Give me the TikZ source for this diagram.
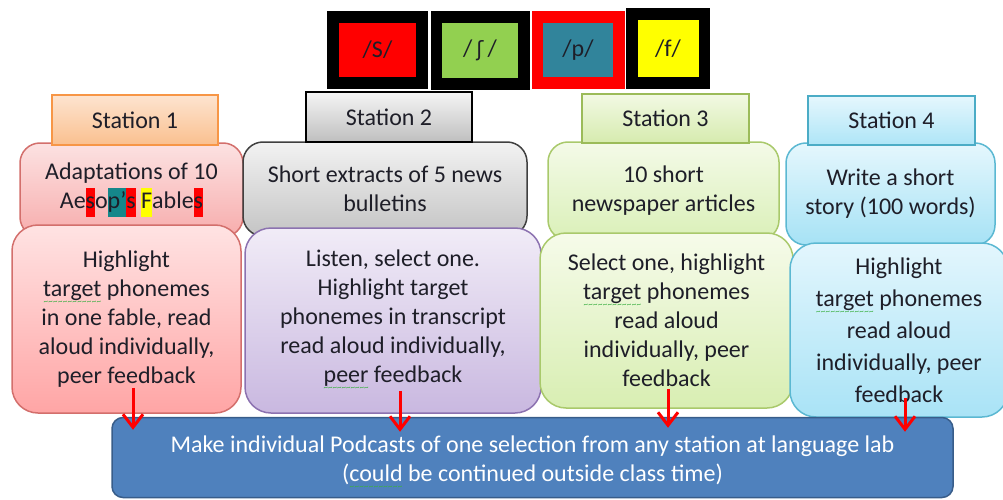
\documentclass[tikz,border=0pt]{standalone}
\usepackage{fontspec}
\setmainfont{Carlito}
\newfontfamily\ipafont{DejaVu Sans}
\usetikzlibrary{arrows.meta,calc}

\definecolor{ink}{HTML}{1E1E28}
\definecolor{phS}{HTML}{FF0000}
\definecolor{phSh}{HTML}{92D050}
\definecolor{phP}{HTML}{31849B}
\definecolor{phF}{HTML}{FFFF00}
\definecolor{hlteal}{HTML}{15878A}
\definecolor{spell}{HTML}{3CB043}
\definecolor{podfill}{HTML}{4F81BD}
\definecolor{podline}{HTML}{385D8A}

\newcommand\hl[2]{{\setlength{\fboxsep}{0pt}\colorbox{#1}{\strut #2}}}
\newcommand\squig[1]{{\setbox0\hbox{#1}\rlap{\color{spell}\raisebox{-8pt}{\hbox to \wd0{\xleaders\hbox{\fontsize{9}{9}\selectfont\textasciitilde}\hfil}}}\box0}}

\begin{document}
\begin{tikzpicture}[x=1pt,y=-1pt,
    every node/.style={font=\fontsize{24}{29}\selectfont, text=ink},
    phon/.style={rectangle, line width=11.5pt, font=\fontsize{24}{26}\selectfont},
    head/.style={rectangle, line width=1.5pt, minimum width=166pt, minimum height=49pt},
    desc/.style={rectangle, rounded corners=20pt, line width=1.5pt, align=center},
    task/.style={rectangle, rounded corners=26pt, line width=1.5pt, align=center},
    arr/.style={red, line width=3pt, -{Straight Barb[length=13pt,width=20pt]}}]
  \useasboundingbox (0,0) rectangle (1003,500);

  % phonemes
  \node[phon, draw=black, fill=phS, minimum width=89pt, minimum height=66pt] (pS) at (377.5,50) {/S/};
  \node[phon, draw=black, fill=phSh, minimum width=87.5pt, minimum height=67pt] (pSh) at (480,50.5) {/\,{\ipafont\fontsize{21}{26}\selectfont ʃ}\,/};
  \node[phon, draw=red, fill=phP, minimum width=81.5pt, minimum height=66pt] (pP) at (578,50) {/p/};
  \node[phon, draw=black, fill=phF, minimum width=72.5pt, minimum height=69pt] (pF) at (668,48.5) {/f/};

  % what each station works on
  \node[desc, draw={rgb,255:red,211;green,111;blue,108}, top color={rgb,255:red,252;green,226;blue,226}, bottom color={rgb,255:red,247;green,172;blue,172},
        minimum width=223pt, minimum height=94pt] (d1) at (131.5,190)
        {Adaptations of 10\\Ae\hl{phS}{s}o\hl{hlteal}{p’}\hl{phS}{s} \hl{phF}{F}able\hl{phS}{s}};
  \node[desc, draw={rgb,255:red,64;green,64;blue,64}, top color={rgb,255:red,242;green,242;blue,242}, bottom color={rgb,255:red,196;green,196;blue,196},
        minimum width=284pt, minimum height=94pt] (d2) at (385,189)
        {Short extracts of 5 news\\bulletins};
  \node[desc, draw={rgb,255:red,169;green,201;blue,107}, top color={rgb,255:red,244;green,250;blue,232}, bottom color={rgb,255:red,218;green,240;blue,184},
        minimum width=231pt, minimum height=98pt] (d3) at (663.5,191)
        {10 short\\newspaper articles};
  \node[desc, draw={rgb,255:red,91;green,184;blue,210}, top color={rgb,255:red,229;green,247;blue,253}, bottom color={rgb,255:red,166;green,226;blue,245},
        minimum width=209pt, minimum height=102pt] (d4) at (890.5,194)
        {Write a short\\story (100 words)};

  % tasks
  \node[task, draw={rgb,255:red,211;green,111;blue,108}, top color={rgb,255:red,255;green,227;blue,227}, bottom color={rgb,255:red,255;green,165;blue,165},
        minimum width=229pt, minimum height=188pt] (t1) at (126.5,319)
        {Highlight\\\squig{target} phonemes\\in one fable, read\\aloud individually,\\peer feedback};
  \node[task, draw={rgb,255:red,140;green,114;blue,176}, top color={rgb,255:red,241;green,236;blue,247}, bottom color={rgb,255:red,201;green,184;blue,224},
        minimum width=296pt, minimum height=185pt] (t2) at (393,320.5)
        {Listen, select one.\\Highlight target\\phonemes in transcript\\read aloud individually,\\\squig{peer} feedback};
  \node[task, draw={rgb,255:red,169;green,201;blue,107}, top color={rgb,255:red,246;green,251;blue,234}, bottom color={rgb,255:red,216;green,238;blue,178},
        minimum width=253pt, minimum height=175pt] (t3) at (666.5,320.5)
        {Select one, highlight\\\squig{target} phonemes\\read aloud\\individually, peer\\feedback};
  \node[task, draw={rgb,255:red,91;green,184;blue,210}, top color={rgb,255:red,227;green,246;blue,253}, bottom color={rgb,255:red,169;green,227;blue,246},
        minimum width=218pt, minimum height=174pt, font=\fontsize{24}{32}\selectfont] (t4) at (899,330)
        {Highlight\\\squig{target} phonemes\\read aloud\\individually, peer\\feedback};

  % station headers
  \node[head, draw={rgb,255:red,247;green,150;blue,70}, top color={rgb,255:red,253;green,228;blue,208}, bottom color={rgb,255:red,250;green,192;blue,143},
        minimum height=50pt] (st1) at (135,120) {Station 1};
  \node[head, draw=black, top color={rgb,255:red,245;green,245;blue,245}, bottom color={rgb,255:red,191;green,191;blue,191},
        minimum height=50pt] (st2) at (389,117) {Station 2};
  \node[head, draw={rgb,255:red,155;green,187;blue,89}, top color={rgb,255:red,242;green,249;blue,228}, bottom color={rgb,255:red,214;green,235;blue,174},
        minimum width=167pt] (st3) at (665.5,118.5) {Station 3};
  \node[head, draw={rgb,255:red,75;green,172;blue,198}, top color={rgb,255:red,229;green,247;blue,253}, bottom color={rgb,255:red,174;green,229;blue,247},
        minimum width=167pt] (st4) at (891.5,120.5) {Station 4};

  % podcast
  \node[rectangle, rounded corners=11pt, draw=podline, line width=1.5pt, fill=podfill,
        minimum width=841pt, minimum height=80pt] (pod) at (532.5,457.5) {};
  \node[text=white, align=center, font=\fontsize{24}{29}\selectfont] (podtxt) at ($(pod.center)+(0,5)$)
        {Make individual Podcasts of one selection from any station at language lab\\(\squig{could} be continued outside class time)};

  \foreach \n/\dx/\up/\dn in {1/6.5/26/13, 2/7/23/15, 3/1.5/20/11, 4/6/20/15}
    \draw[arr] ($(t\n.south)+(\dx,-\up)$) -- ($(t\n.south |- pod.north)+(\dx,\dn)$);
\end{tikzpicture}
\end{document}
